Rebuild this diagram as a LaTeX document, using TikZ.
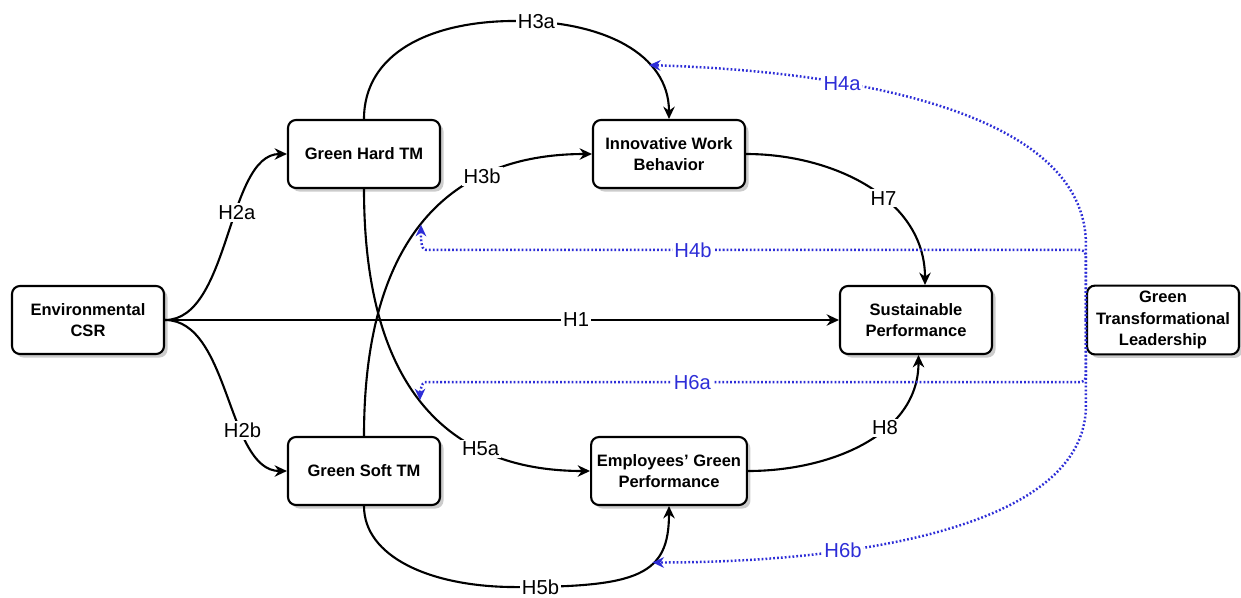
\documentclass[tikz,border=0pt]{standalone}
\usepackage{fontspec}
\setmainfont{Liberation Sans}
\usetikzlibrary{arrows.meta, positioning, shadows, calc}
\definecolor{hypblue}{RGB}{45,45,215}

\begin{document}
\begin{tikzpicture}[
    node distance=6.1cm,
    box/.style={rectangle, draw, fill=white, line width=1.2pt, minimum width=3.04cm, minimum height=1.36cm, align=center, rounded corners=0.16cm, font=\bfseries\fontsize{9.4}{12}\selectfont, drop shadow={shadow xshift=2pt, shadow yshift=-2pt, opacity=0.4}},
    link/.style={-{Stealth[length=7pt, width=6.5pt]}, line width=1.2pt},
    hyp/.style={-{Stealth[length=6.5pt, width=6pt]}, draw=hypblue, line width=1.4pt, dash pattern=on 1pt off 1.2pt, rounded corners=3pt},
    lab/.style={fill=white, inner sep=1.2pt, font=\fontsize{11.5}{12}\selectfont},
    hlab/.style={lab, text=hypblue}
]
    \useasboundingbox[fill=white] (-1.76,-5.54) rectangle (23.06,6.4);

    % Antecedent
    \node[box] (env) {Environmental\\CSR};

    % Talent management
    \node[box, right of=env, xshift=-0.58cm, yshift=3.32cm] (ght) {Green Hard TM};
    \node[box, below of=ght, yshift=-0.24cm] (gst) {Green Soft TM};

    % Mediators
    \node[box, right of=ght] (iwb) {Innovative Work\\Behavior};
    \node[box, right of=gst] (egp) {Employees' Green\\Performance};

    % Outcome
    \node[box, right of=iwb, xshift=-1.16cm, yshift=-3.32cm] (sp) {Sustainable\\Performance};

    % Moderator
    \node[box, right of=sp, xshift=-1.16cm] (gtl) {Green\\Transformational\\Leadership};

    % Direct paths
    \draw[link] (env.east) -- node[lab, pos=0.61] {H1} (sp.west);
    \draw[link] (env.east) .. controls +(1.3,0) and +(-1.2,0) .. (ght.west) node[lab, pos=0.6] {H2a};
    \draw[link] (env.east) .. controls +(1.3,0) and +(-1.2,0) .. (gst.west) node[lab, pos=0.66] {H2b};
    \draw[link] (ght.north) .. controls +(0,1.3) and +(-1.74,0) .. ($(ght.north)+(3.04,1.96)$)
        .. controls +(1.74,0) and +(0,1.3) .. (iwb.north) node[lab, pos=0.08] {H3a} coordinate[pos=0.67] (h4atip);
    \draw[link] (gst.north) .. controls +(0,3.74) and +(-3.04,0) .. (iwb.west) node[lab, pos=0.72] {H3b} coordinate[pos=0.5] (h4btip);
    \draw[link] (ght.south) .. controls +(0,-3.74) and +(-3.04,0) .. (egp.west) node[lab, pos=0.72] {H5a} coordinate[pos=0.5] (h6atip);
    \draw[link] (gst.south) .. controls +(0,-1.0) and +(-1.74,0) .. ($(gst.south)+(3.04,-1.62)$)
        .. controls +(2.46,0) and +(0,-1.38) .. (egp.south) node[lab, pos=0.07] {H5b} coordinate[pos=0.62] (h6btip);
    \draw[link] (iwb.east) to[out=0, in=90] node[lab, pos=0.58] {H7} ([xshift=0.18cm]sp.north);
    \draw[link] (egp.east) to[out=0, in=-90] node[lab, pos=0.62] {H8} ([xshift=0.05cm]sp.south);

    % Moderating paths
    \draw[hyp] (gtl.west) -- ++(0,1.4) .. controls +(0,2.8) and +(3.94,-0.12) .. (h4atip) node[hlab, pos=0.68] {H4a};
    \draw[hyp] (gtl.west) |- node[hlab, pos=0.8] {H4b} ($(h4btip)+(0.2,-0.5)$) to[out=180, in=-90] (h4btip);
    \draw[hyp] (gtl.west) |- node[hlab, pos=0.8] {H6a} ($(h6atip)+(0.2,0.36)$) to[out=180, in=90] (h6atip);
    \draw[hyp] (gtl.west) -- ++(0,-1.6) .. controls +(0,-2.6) and +(3.86,0) .. (h6btip) node[hlab, pos=0.68] {H6b};
\end{tikzpicture}
\end{document}
